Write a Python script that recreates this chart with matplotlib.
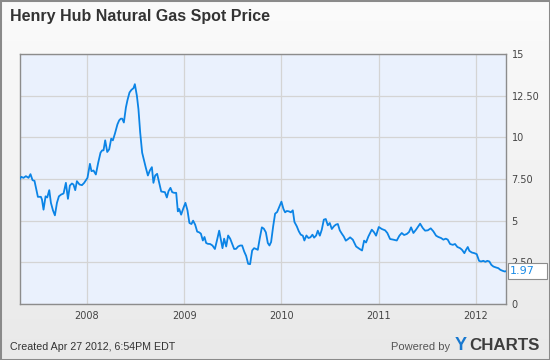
import numpy as np
import matplotlib
matplotlib.use("Agg")
from matplotlib import pyplot as plt
from matplotlib.colors import LinearSegmentedColormap
from matplotlib.patches import Rectangle

# Henry Hub spot price (decimal year, $/MMBtu)
years = [
    2007.307, 2007.325, 2007.348, 2007.373, 2007.400, 2007.420, 2007.441, 2007.461,
    2007.496, 2007.527, 2007.538, 2007.554, 2007.575, 2007.592, 2007.613, 2007.630,
    2007.651, 2007.671, 2007.692, 2007.712, 2007.736, 2007.760, 2007.784, 2007.805,
    2007.825, 2007.846, 2007.862, 2007.880, 2007.897, 2007.924, 2007.949, 2007.972,
    2008.006, 2008.031, 2008.047, 2008.068, 2008.092, 2008.116, 2008.140, 2008.157,
    2008.171, 2008.188, 2008.209, 2008.229, 2008.250, 2008.267, 2008.288, 2008.314,
    2008.332, 2008.349, 2008.363, 2008.380, 2008.401, 2008.417, 2008.438, 2008.458,
    2008.479, 2008.493, 2008.514, 2008.530, 2008.548, 2008.568, 2008.589, 2008.606,
    2008.627, 2008.647, 2008.668, 2008.684, 2008.702, 2008.722, 2008.743, 2008.764,
    2008.784, 2008.802, 2008.822, 2008.839, 2008.859, 2008.877, 2008.897, 2008.918,
    2008.935, 2008.949, 2008.969, 2008.993, 2009.013, 2009.034, 2009.054, 2009.075,
    2009.092, 2009.113, 2009.134, 2009.154, 2009.172, 2009.192, 2009.209, 2009.226,
    2009.244, 2009.267, 2009.291, 2009.316, 2009.339, 2009.360, 2009.377, 2009.394,
    2009.411, 2009.432, 2009.452, 2009.473, 2009.493, 2009.514, 2009.534, 2009.555,
    2009.576, 2009.596, 2009.617, 2009.637, 2009.658, 2009.678, 2009.699, 2009.719,
    2009.740, 2009.757, 2009.778, 2009.799, 2009.819, 2009.840, 2009.860, 2009.877,
    2009.894, 2009.915, 2009.935, 2009.956, 2009.976, 2010.000, 2010.021, 2010.038,
    2010.055, 2010.076, 2010.097, 2010.117, 2010.134, 2010.158, 2010.179, 2010.199,
    2010.220, 2010.236, 2010.257, 2010.278, 2010.298, 2010.319, 2010.336, 2010.357,
    2010.374, 2010.395, 2010.415, 2010.436, 2010.456, 2010.477, 2010.497, 2010.518,
    2010.539, 2010.559, 2010.580, 2010.600, 2010.621, 2010.641, 2010.662, 2010.686,
    2010.706, 2010.734, 2010.768, 2010.802, 2010.829, 2010.850, 2010.870, 2010.894,
    2010.929, 2010.953, 2010.973, 2011.001, 2011.032, 2011.066, 2011.089, 2011.117,
    2011.151, 2011.186, 2011.213, 2011.237, 2011.261, 2011.289, 2011.312, 2011.333,
    2011.357, 2011.384, 2011.412, 2011.426, 2011.453, 2011.477, 2011.505, 2011.535,
    2011.562, 2011.590, 2011.614, 2011.641, 2011.665, 2011.690, 2011.710, 2011.734,
    2011.762, 2011.785, 2011.809, 2011.837, 2011.857, 2011.881, 2011.898, 2011.916,
    2011.932, 2011.957, 2011.984, 2012.008, 2012.032, 2012.052, 2012.076, 2012.097,
    2012.117, 2012.138, 2012.158, 2012.179, 2012.207, 2012.230, 2012.251, 2012.275,
    2012.296, 2012.309,
]
prices = [
    7.47, 7.63, 7.57, 7.67, 7.57, 7.79, 7.43, 7.39,
    6.43, 6.43, 6.27, 5.66, 6.46, 6.39, 6.83, 6.07,
    5.62, 5.32, 6.07, 6.46, 6.57, 6.63, 7.27, 6.31,
    7.11, 7.23, 7.17, 6.83, 7.37, 7.17, 7.13, 7.27,
    7.57, 8.41, 7.97, 8.01, 7.77, 8.47, 9.08, 9.22,
    9.22, 9.82, 9.12, 9.28, 9.92, 9.82, 10.22, 10.78,
    11.02, 11.12, 11.12, 10.89, 11.79, 12.23, 12.69, 12.85,
    12.95, 13.19, 12.49, 11.69, 10.28, 9.08, 8.57, 8.17,
    7.71, 8.01, 8.21, 7.27, 7.71, 7.81, 7.27, 6.75,
    6.73, 6.71, 6.39, 6.77, 6.97, 6.71, 6.67, 6.67,
    5.56, 5.70, 5.36, 5.77, 6.07, 5.62, 4.86, 4.80,
    5.00, 4.76, 4.34, 4.30, 4.22, 3.81, 4.02, 3.66,
    3.61, 3.60, 3.51, 3.30, 3.86, 4.40, 3.86, 3.35,
    3.92, 3.45, 4.11, 3.92, 3.61, 3.30, 3.31, 3.45,
    3.51, 3.51, 3.15, 2.89, 2.41, 2.39, 3.21, 3.35,
    3.30, 3.25, 3.96, 4.60, 4.52, 4.30, 3.66, 3.51,
    3.72, 4.66, 5.42, 5.52, 5.80, 6.14, 5.70, 5.50,
    5.58, 5.56, 5.50, 5.62, 4.92, 4.66, 4.36, 4.16,
    4.10, 3.81, 4.11, 3.96, 4.00, 4.16, 3.98, 4.11,
    4.40, 4.10, 4.46, 5.06, 5.10, 4.72, 4.86, 4.50,
    4.66, 4.76, 4.80, 4.42, 4.22, 4.05, 3.80, 3.90,
    4.00, 3.86, 3.45, 3.31, 3.21, 3.80, 3.69, 4.05,
    4.46, 4.30, 4.10, 4.62, 4.50, 4.42, 4.26, 3.90,
    3.86, 3.81, 4.10, 4.26, 4.14, 4.20, 4.32, 4.60,
    4.26, 4.46, 4.70, 4.82, 4.56, 4.40, 4.42, 4.54,
    4.36, 4.10, 4.02, 3.96, 3.86, 3.92, 3.86, 3.60,
    3.55, 3.60, 3.42, 3.35, 3.25, 3.05, 3.25, 3.42,
    3.19, 3.09, 3.05, 2.99, 2.59, 2.55, 2.59, 2.53,
    2.59, 2.55, 2.35, 2.25, 2.19, 2.15, 2.05, 1.99,
    1.95, 1.97,
]
year_ticks = [2008, 2009, 2010, 2011, 2012]
price_ticks = [0, 2.5, 5, 7.5, 10, 12.5, 15]
price_labels = ["0", "2.50", "5", "7.50", "10", "12.50", "15"]
last_label = "1.97"

title = "Henry Hub Natural Gas Spot Price"
created = "Created Apr 27 2012, 6:54PM EDT"

fig = plt.figure(figsize=(5.5, 3.6), dpi=100)

# light gray gradient background
bg = fig.add_axes([0, 0, 1, 1], zorder=-10)
cmap = LinearSegmentedColormap.from_list("bg", ["#fbfbfb", "#e9e9e9"])
bg.imshow(np.linspace(0, 1, 256).reshape(-1, 1), aspect="auto", cmap=cmap,
          extent=[0, 1, 0, 1])
bg.axis("off")
fig.patches.append(Rectangle((0, 0), 1, 1, transform=fig.transFigure, fill=False,
                             edgecolor="#8a8a8a", linewidth=2.2))

ax = fig.add_axes([19.5 / 550, 56 / 360, (506 - 19.5) / 550, (305 - 55) / 360])
ax.set_facecolor("#eaf1fd")
ax.plot(years, prices, color="#0b84e6", linewidth=1.3, zorder=3)

ax.set_xlim(years[0], years[-1])
ax.set_ylim(0, 15)
ax.set_xticks(year_ticks)
ax.set_xticklabels([str(y) for y in year_ticks])
ax.set_yticks(price_ticks)
ax.set_yticklabels(price_labels)
ax.yaxis.tick_right()
ax.tick_params(axis="both", length=0, labelsize=7, labelcolor="#444444")
ax.tick_params(axis="x", pad=5)
ax.tick_params(axis="y", pad=4)
ax.grid(True, color="#d4d4d4", linewidth=0.9)
ax.set_axisbelow(True)
for s in ax.spines.values():
    s.set_color("#8c8c8c")
    s.set_linewidth(1.0)

# last value tag: white box next to the right axis, at the last price
tag = Rectangle((1.004, prices[-1] - 0.48), 0.08, 0.96,
                transform=ax.get_yaxis_transform(), facecolor="white",
                edgecolor="#8c8c8c", linewidth=0.8, clip_on=False, zorder=9)
ax.add_patch(tag)
ax.annotate(last_label, xy=(1.0, prices[-1]), xycoords=("axes fraction", "data"),
            xytext=(3, 0), textcoords="offset points", ha="left", va="center",
            fontsize=8, color="#1a8be6", zorder=10, annotation_clip=False)

fig.text(10 / 550, 1 - 17 / 360, title, fontsize=11.5, fontweight="bold",
         family="Liberation Sans", color="#333333", va="center", ha="left")
fig.text(10 / 550, 1 - 347 / 360, created, fontsize=7.7, family="Liberation Sans",
         color="#333333", va="center", ha="left")
fig.text(450 / 550, 1 - 347 / 360, "Powered by", fontsize=8, family="Liberation Sans",
         color="#555555", va="center", ha="right")
fig.text(455 / 550, 1 - 346 / 360, "Y", fontsize=13, fontweight="bold",
         family="Liberation Sans", color="#1878cf", va="center", ha="left")
fig.text(469 / 550, 1 - 346 / 360, "CHARTS", fontsize=12.2, fontweight="bold",
         family="Liberation Sans", color="#3d3d3d", va="center", ha="left")

fig.savefig("out.png", dpi=100)
